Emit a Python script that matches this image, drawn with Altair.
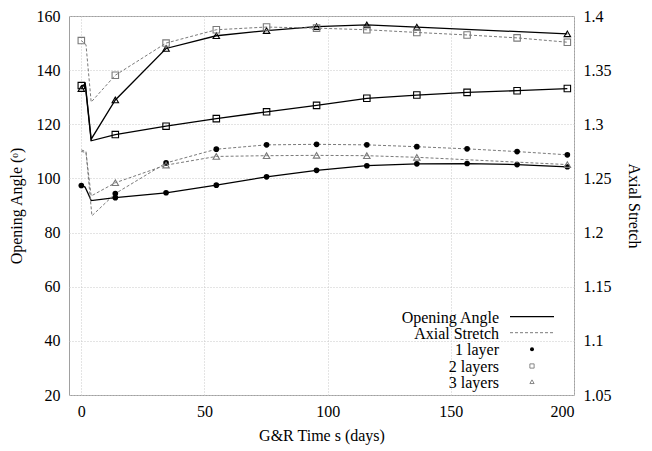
import altair as alt
import pandas as pd

# ---------------- data ----------------
t_marks = [0, 13.8, 34.4, 54.8, 75.2, 95.5, 115.9, 136.2, 156.6, 176.9, 197.3]

# Opening angle (degrees): early transient points (line only) + marker values
oa1_trans_t = [1.5, 2.7, 4.0]
oa1_trans_v = [96.8, 94.5, 91.8]
oa1_marks = [97.4, 92.9, 94.7, 97.5, 100.6, 103.0, 104.7, 105.4, 105.5, 105.1, 104.3]

oa2_trans_t = [1.6, 4.0]
oa2_trans_v = [134.6, 113.9]
oa2_marks = [134.3, 116.2, 119.3, 122.1, 124.6, 127.0, 129.6, 130.8, 131.8, 132.4, 133.2]

oa3_trans_t = [1.6, 4.0]
oa3_trans_v = [135.1, 114.5]
oa3_marks = [133.2, 129.0, 148.0, 152.7, 154.6, 156.1, 156.7, 155.9, None, None, 153.4]

# Axial stretch
as1_trans_t = [0, 1.9, 4.3]
as1_trans_v = [1.2763, 1.2748, 1.2155]
as1_marks = [None, 1.236, 1.2643, 1.277, 1.281, 1.2815, 1.281, 1.2793, 1.2773, 1.2748, 1.2718]

as2_trans_t = [1.9, 4.0]
as2_trans_v = [1.3735, 1.3205]
as2_marks = [1.3773, 1.3453, 1.375, 1.3873, 1.3898, 1.3888, 1.3873, 1.3848, 1.3825, 1.3798, 1.3758]

as3_trans_t = [0, 1.9, 4.0]
as3_trans_v = [1.275, 1.2738, 1.2338]
as3_marks = [None, 1.246, 1.2623, 1.2703, 1.271, 1.2713, 1.271, 1.2695, None, None, 1.2628]

layer_names = ["1 layer", "2 layers", "3 layers"]
legend_labels = ["Opening Angle", "Axial Stretch", "1 layer", "2 layers", "3 layers"]
x_ticks = [0, 50, 100, 150, 200]
angle_ticks = [20, 40, 60, 80, 100, 120, 140, 160]
stretch_ticks = [1.05, 1.1, 1.15, 1.2, 1.25, 1.3, 1.35, 1.4]


def build(series):
    line_rows, mark_rows = [], []
    for name, tt, tv, mv in series:
        for t, v in zip(tt, tv):
            line_rows.append({"t": t, "v": v, "layers": name})
        for t, v in zip(t_marks, mv):
            if v is not None:
                line_rows.append({"t": t, "v": v, "layers": name})
                mark_rows.append({"t": t, "v": v, "layers": name})
    return pd.DataFrame(line_rows), pd.DataFrame(mark_rows)


angle_lines, angle_marks = build([
    (layer_names[0], oa1_trans_t, oa1_trans_v, oa1_marks),
    (layer_names[1], oa2_trans_t, oa2_trans_v, oa2_marks),
    (layer_names[2], oa3_trans_t, oa3_trans_v, oa3_marks),
])
stretch_lines, stretch_marks = build([
    (layer_names[0], as1_trans_t, as1_trans_v, as1_marks),
    (layer_names[1], as2_trans_t, as2_trans_v, as2_marks),
    (layer_names[2], as3_trans_t, as3_trans_v, as3_marks),
])

FONT = "Liberation Serif"
GRAY = "#7a7a7a"
common_axis = dict(labelFont=FONT, titleFont=FONT, labelFontSize=16, titleFontSize=16,
                   titleFontWeight="normal", labelColor="black", titleColor="black",
                   ticks=False, domain=False)

x_enc = alt.X("t:Q", scale=alt.Scale(domain=[-5, 200], nice=False, zero=False),
              axis=alt.Axis(values=x_ticks, title="G&R Time s (days)", grid=True,
                            gridColor="#c8c8c8", gridDash=[1, 2],
                            labelPadding=8, titlePadding=8, **common_axis))

y_angle = alt.Y("v:Q", scale=alt.Scale(domain=[20, 160], nice=False, zero=False),
                axis=alt.Axis(values=angle_ticks, title="Opening Angle (ᵒ)", orient="left",
                              grid=True, gridColor="#c8c8c8", gridDash=[1, 2],
                              labelPadding=9, titlePadding=12, **common_axis))

y_stretch = alt.Y("v:Q", scale=alt.Scale(domain=[1.05, 1.4], nice=False, zero=False),
                  axis=alt.Axis(values=stretch_ticks, title="Axial Stretch", orient="right",
                                grid=False, labelPadding=9, titlePadding=14, format=".3~g",
                                **common_axis))


def group(lines, marks, y_enc, color, dash):
    base_line = alt.Chart(lines).mark_line(color=color, strokeWidth=1.3 if not dash else 1.0,
                                          **({"strokeDash": dash} if dash else {})).encode(
        x=x_enc, y=y_enc, detail="layers:N", order="t:Q")
    circ = alt.Chart(marks).transform_filter(alt.datum.layers == layer_names[0]).mark_point(
        shape="circle", filled=True, size=32, color="black", opacity=1).encode(x=x_enc, y=y_enc)
    sq = alt.Chart(marks).transform_filter(alt.datum.layers == layer_names[1]).mark_point(
        shape="square", filled=False, size=42, color=color, strokeWidth=1.1, opacity=1).encode(x=x_enc, y=y_enc)
    tri = alt.Chart(marks).transform_filter(alt.datum.layers == layer_names[2]).mark_point(
        shape="triangle-up", filled=False, size=42, color=color, strokeWidth=1.1, opacity=1).encode(x=x_enc, y=y_enc)
    return [base_line, circ, sq, tri]


angle_layers = group(angle_lines, angle_marks, y_angle, "black", None)
stretch_layers = group(stretch_lines, stretch_marks, y_stretch, GRAY, [3, 2])

# ---------------- legend (inside plot, bottom right) ----------------
one = pd.DataFrame({"k": [0]})
row_y = [300.7, 316.7, 333.3, 350.0, 365.7]
text_x = 430
leg = []
for lab, yy in zip(legend_labels, row_y):
    leg.append(alt.Chart(one).mark_text(text=lab, align="right", baseline="middle",
                                        font=FONT, fontSize=16, color="black").encode(
        x=alt.value(text_x), y=alt.value(yy + 1)))
leg.append(alt.Chart(one).mark_rule(color="black", strokeWidth=1.3).encode(
    x=alt.value(441), x2=alt.value(485), y=alt.value(row_y[0])))
leg.append(alt.Chart(one).mark_rule(color=GRAY, strokeWidth=1.0, strokeDash=[3, 2]).encode(
    x=alt.value(441), x2=alt.value(485), y=alt.value(row_y[1])))
leg.append(alt.Chart(one).mark_point(shape="circle", filled=True, size=16, color="black", opacity=1).encode(
    x=alt.value(463), y=alt.value(row_y[2])))
leg.append(alt.Chart(one).mark_point(shape="square", filled=False, size=18, strokeWidth=0.9,
                                     color=GRAY, opacity=1).encode(
    x=alt.value(463), y=alt.value(row_y[3])))
leg.append(alt.Chart(one).mark_point(shape="triangle-up", filled=False, size=18, strokeWidth=0.9,
                                     color=GRAY, opacity=1).encode(
    x=alt.value(463), y=alt.value(row_y[4])))

angle_group = alt.layer(*angle_layers, *leg)
stretch_group = alt.layer(*stretch_layers)

chart = alt.layer(angle_group, stretch_group).resolve_scale(y="independent").properties(
    width=505, height=379,
    padding={"left": 61, "top": 8, "right": 70, "bottom": 52},
    autosize=alt.AutoSizeParams(type="none"),
).configure(font=FONT).configure_view(stroke="#a0a0a0", strokeWidth=1)

chart.save("out.html", embed_options={"renderer": "svg", "actions": False})
